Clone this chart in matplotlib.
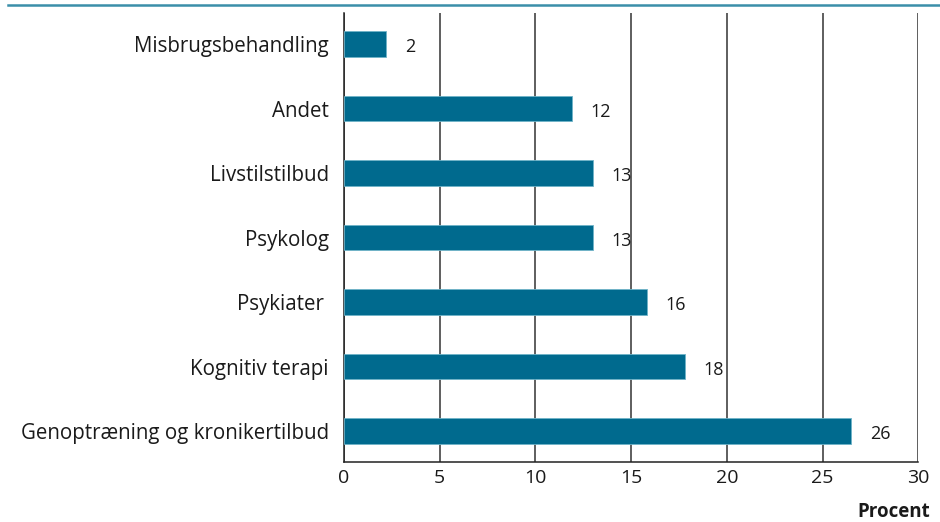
import matplotlib.pyplot as plt
import numpy as np

categories = [
    "Misbrugsbehandling",
    "Andet",
    "Livstilstilbud",
    "Psykolog",
    "Psykiater ",
    "Kognitiv terapi",
    "Genoptræning og kronikertilbud",
]
values = [2.2, 11.9, 13.0, 13.0, 15.8, 17.8, 26.5]
value_labels = ["2", "12", "13", "13", "16", "18", "26"]
x_ticks = [0, 5, 10, 15, 20, 25, 30]

plt.rcParams["font.family"] = ["Open Sans", "DejaVu Sans"]

fig = plt.figure(figsize=(9.4, 5.22), dpi=100)
ax = fig.add_axes((0.366, 0.115, 0.611, 0.86))

y = np.arange(len(categories))
ax.barh(y, values, height=0.4, color="#006a8e", edgecolor="#6fb3c8",
        linewidth=0.6, zorder=3)

for yi, v, lab in zip(y, values, value_labels):
    ax.annotate(lab, (v, yi), xytext=(13.5, -2.5), textcoords="offset points",
                ha="left", va="center", fontsize=13, color="#1a1a1a")

ax.set_xlim(0, 30)
ax.set_ylim(len(categories) - 0.52, -0.48)
ax.set_xticks(x_ticks)
ax.set_yticks(y)
ax.set_yticklabels(categories, fontsize=14.8, color="#1a1a1a")
ax.tick_params(axis="y", length=0, pad=11)
ax.tick_params(axis="x", length=0, pad=5, labelsize=14, labelcolor="#1a1a1a")

ax.grid(axis="x", color="#333333", linewidth=1.1, zorder=0)
for s in ["top", "right"]:
    ax.spines[s].set_visible(False)
ax.spines["left"].set_color("#222222")
ax.spines["bottom"].set_color("#222222")
ax.spines["left"].set_linewidth(1.1)
ax.spines["bottom"].set_linewidth(1.1)

fig.text(0.99, 0.0, "Procent", ha="right", va="bottom",
         fontsize=13.5, fontweight="bold", color="#1a1a1a")

# thin rule at the top edge
fig.add_artist(plt.Line2D([0.008, 1.0], [0.99, 0.99], color="#3b8fa9",
                          linewidth=1.8, transform=fig.transFigure))

fig.savefig("out.png", dpi=100)
